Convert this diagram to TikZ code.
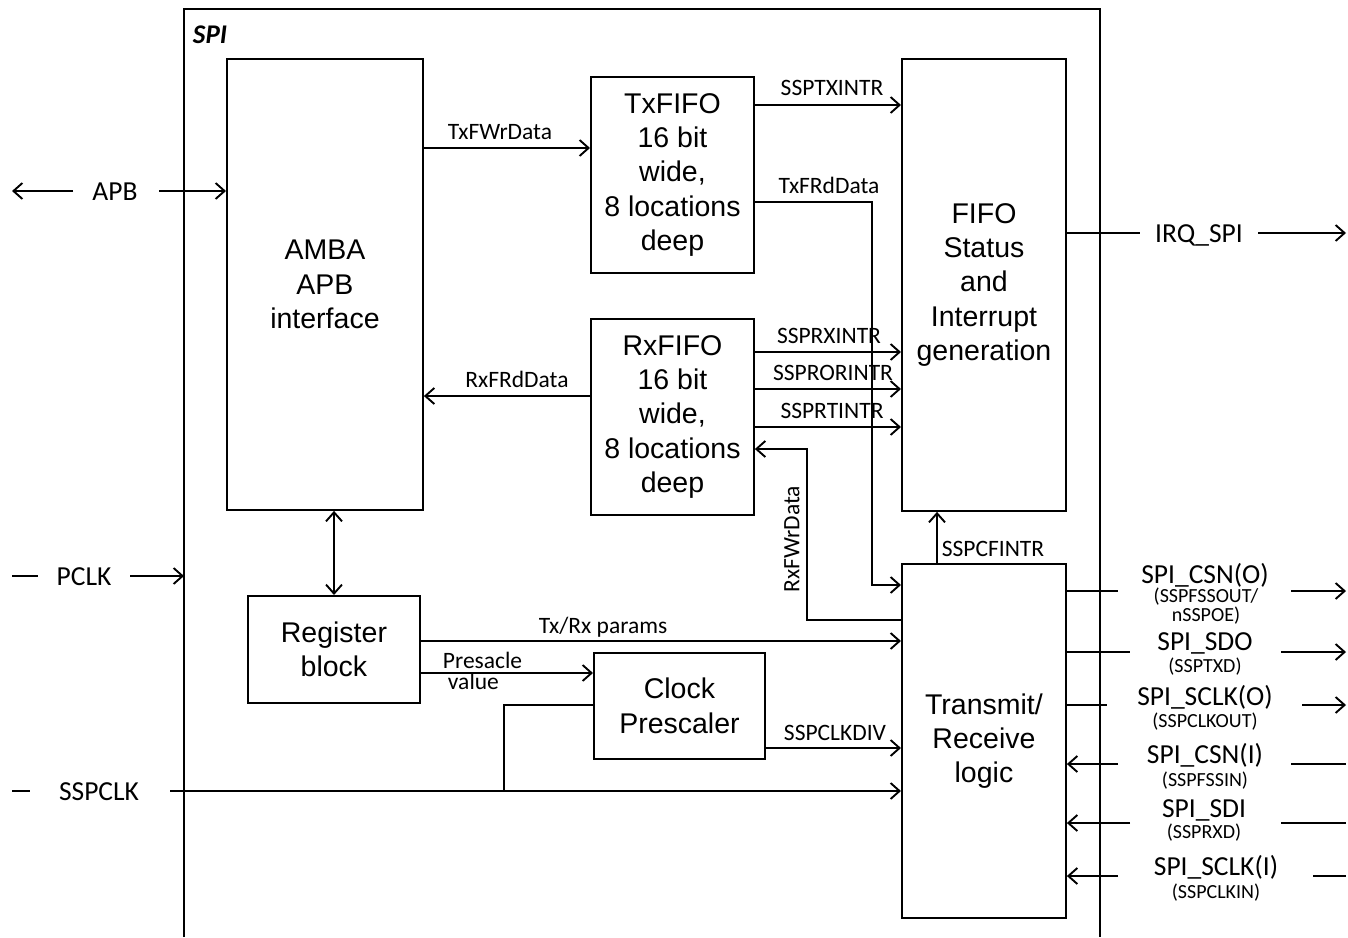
\documentclass[tikz,border=0pt]{standalone}
\usepackage{fontspec}
\setmainfont{Liberation Sans}
\newfontfamily\calfont{Carlito}
\usetikzlibrary{arrows.meta}
\begin{document}
\begin{tikzpicture}[x=1pt,y=-1pt,line width=1.9pt,
 blk/.style={draw,line width=1.9pt,inner sep=0pt,align=center,anchor=north west,font=\fontsize{28.5}{34.3}\selectfont},
 lbl/.style={font=\calfont\fontsize{23.5}{24}\selectfont,inner sep=0pt,anchor=base},
 big/.style={font=\calfont\fontsize{27.5}{28}\selectfont,inner sep=0pt,anchor=base},
 sml/.style={font=\calfont\fontsize{20}{21}\selectfont,inner sep=0pt,anchor=base},
 arr/.style={-{Straight Barb[length=9pt,width=16pt]}},
 darr/.style={{Straight Barb[length=9pt,width=16pt]}-{Straight Barb[length=9pt,width=16pt]}},
]
\useasboundingbox (0,0) rectangle (1348,937);
% SPI frame
\draw (184,937) -- (184,9) -- (1100,9) -- (1100,937);
\node[font=\calfont\bfseries\itshape\fontsize{27}{28}\selectfont,inner sep=0pt,anchor=base west] (spi) at (192,43) {SPI};
% blocks
\node[blk,minimum width=196,minimum height=451] (amba) at (226,58) {AMBA\\APB\\interface};
\node[blk,minimum width=163,minimum height=196] (txf) at (590,76) {TxFIFO\\16 bit\\wide,\\8 locations\\deep};
\node[blk,minimum width=163,minimum height=196] (rxf) at (590,318) {RxFIFO\\16 bit\\wide,\\8 locations\\deep};
\node[blk,minimum width=164,minimum height=452] (fifo) at (901,58) {FIFO\\Status\\and\\Interrupt\\generation};
\node[blk,minimum width=164,minimum height=354] (trx) at (901,563) {Transmit/\\Receive\\logic};
\node[blk,minimum width=172,minimum height=107] (reg) at (247,595) {Register\\block};
\node[blk,minimum width=171,minimum height=106] (clk) at (593,652) {Clock\\Prescaler};
% APB
\coordinate (apbL) at (12,191);
\coordinate (apbR) at (73,191);
\coordinate (apbS) at (159,191);
\node[big] (apb) at (115,200) {APB};
\draw[arr] (apbR) -- (apbL);
\draw[arr] (apbS) -- (amba.west |- apbS);
% PCLK
\coordinate (pclkA) at (12,576);
\coordinate (pclkB) at (38,576);
\coordinate (pclkC) at (130,576);
\coordinate (pclkD) at (184,576);
\node[big] (pclk) at (84,585) {PCLK};
\draw (pclkA) -- (pclkB);
\draw[arr] (pclkC) -- (pclkD);
% SSPCLK
\coordinate (sclkA) at (12,791);
\coordinate (sclkB) at (30,791);
\coordinate (sclkC) at (170,791);
\coordinate (brk) at (504,791);
\node[big] (sspclk) at (99,800) {SSPCLK};
\draw (sclkA) -- (sclkB);
\draw[arr] (sclkC) -- (trx.west |- sclkC);
\draw (brk) |- (clk.west |- 0,705);
% AMBA <-> FIFOs
\draw[arr] (amba.east |- 0,148) -- (txf.west |- 0,148);
\node[lbl] (ltxfwr) at (500,139) {TxFWrData};
\draw[arr] (rxf.west |- 0,396) -- (amba.east |- 0,396);
\node[lbl] (lrxfrd) at (517,387) {RxFRdData};
% TxFIFO outputs
\draw[arr] (txf.east |- 0,105) -- (fifo.west |- 0,105);
\node[lbl] (lsptx) at (832,95) {SSPTXINTR};
\draw[arr] (txf.east |- 0,202) -- (872,202) -- (872,585) -- (trx.west |- 0,585);
\node[lbl] (ltxfrd) at (829,193) {TxFRdData};
% RxFIFO outputs
\draw[arr] (rxf.east |- 0,352) -- (fifo.west |- 0,352);
\node[lbl] (lsprx) at (829,343) {SSPRXINTR};
\draw[arr] (rxf.east |- 0,389) -- (fifo.west |- 0,389);
\node[lbl] (lspror) at (833,380) {SSPRORINTR};
\draw[arr] (rxf.east |- 0,427) -- (fifo.west |- 0,427);
\node[lbl] (lsprt) at (832,418) {SSPRTINTR};
\draw[arr] (trx.west |- 0,620) -- (807,620) -- (807,449) -- (rxf.east |- 0,449);
\node[lbl,anchor=center,rotate=90] (lrxfwr) at (792,539) {RxFWrData};
% SSPCFINTR
\draw[arr] (trx.north -| 937,0) -- (fifo.south -| 937,0);
\node[lbl] (lspcf) at (993,556) {SSPCFINTR};
% register block
\draw[darr] (amba.south -| 334,0) -- (reg.north -| 334,0);
\draw[arr] (reg.east |- 0,641) -- (trx.west |- 0,641);
\node[lbl] (lparams) at (603,633) {Tx/Rx params};
\draw[arr] (reg.east |- 0,673) -- (clk.west |- 0,673);
\node[lbl,anchor=base west] (lpre1) at (442,668) {Presacle};
\node[lbl,anchor=base west] (lpre2) at (447,689) {value};
\draw[arr] (clk.east |- 0,748) -- (trx.west |- 0,748);
\node[lbl] (lclkdiv) at (835,740) {SSPCLKDIV};
% IRQ
\coordinate (irqA) at (1140,233);
\coordinate (irqB) at (1258,233);
\coordinate (irqC) at (1346,233);
\draw (fifo.east |- irqA) -- (irqA);
\node[big] (irq) at (1199,242) {IRQ\_SPI};
\draw[arr] (irqB) -- (irqC);
% right side signals
\coordinate (o1a) at (1118,591); \coordinate (o1b) at (1291,591); \coordinate (o1c) at (1346,591);
\draw (trx.east |- o1a) -- (o1a);
\draw[arr] (o1b) -- (o1c);
\node[big] (t1) at (1205,583) {SPI\_CSN(O)};
\node[sml] (t1b) at (1206,602) {(SSPFSSOUT/};
\node[sml] (t1c) at (1206,621) {nSSPOE)};
\coordinate (o2a) at (1130,652); \coordinate (o2b) at (1281,652); \coordinate (o2c) at (1346,652);
\draw (trx.east |- o2a) -- (o2a);
\draw[arr] (o2b) -- (o2c);
\node[big] (t2) at (1205,650) {SPI\_SDO};
\node[sml] (t2b) at (1205,672) {(SSPTXD)};
\coordinate (o3a) at (1107,705); \coordinate (o3b) at (1302,705); \coordinate (o3c) at (1346,705);
\draw (trx.east |- o3a) -- (o3a);
\draw[arr] (o3b) -- (o3c);
\node[big] (t3) at (1205,705) {SPI\_SCLK(O)};
\node[sml] (t3b) at (1205,727) {(SSPCLKOUT)};
\coordinate (i1a) at (1118,764); \coordinate (i1b) at (1291,764); \coordinate (i1c) at (1346,764);
\draw[arr] (i1a) -- (trx.east |- i1a);
\draw (i1b) -- (i1c);
\node[big] (t4) at (1205,763) {SPI\_CSN(I)};
\node[sml] (t4b) at (1205,786) {(SSPFSSIN)};
\coordinate (i2a) at (1130,823); \coordinate (i2b) at (1281,823); \coordinate (i2c) at (1346,823);
\draw[arr] (i2a) -- (trx.east |- i2a);
\draw (i2b) -- (i2c);
\node[big] (t5) at (1204,817) {SPI\_SDI};
\node[sml] (t5b) at (1204,838) {(SSPRXD)};
\coordinate (i3a) at (1118,876); \coordinate (i3b) at (1313,876); \coordinate (i3c) at (1346,876);
\draw[arr] (i3a) -- (trx.east |- i3a);
\draw (i3b) -- (i3c);
\node[big] (t6) at (1216,875) {SPI\_SCLK(I)};
\node[sml] (t6b) at (1216,898) {(SSPCLKIN)};
\end{tikzpicture}
\end{document}
